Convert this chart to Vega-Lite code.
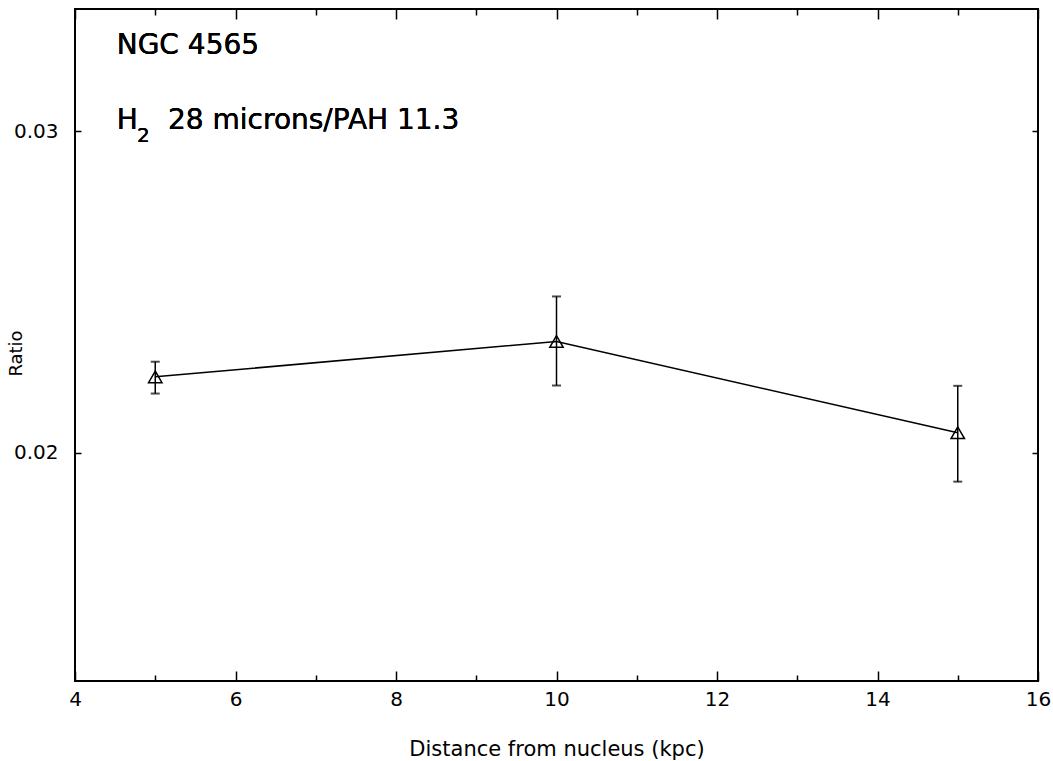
{
  "$schema": "https://vega.github.io/schema/vega-lite/v6.json",
  "width": 963,
  "height": 672,
  "autosize": {"type": "none"},
  "padding": {"left": 75, "top": 9, "right": 15, "bottom": 80},
  "background": "white",
  "config": {
    "view": {"stroke": "black", "strokeWidth": 2},
    "axis": {
      "domain": false,
      "grid": false,
      "labelFont": "DejaVu Sans",
      "titleFont": "DejaVu Sans",
      "labelColor": "black",
      "titleColor": "black",
      "tickColor": "black",
      "tickWidth": 1.5,
      "titleFontWeight": "normal"
    },
    "text": {"font": "DejaVu Sans", "color": "black"}
  },
  "resolve": {"axis": {"x": "independent", "y": "independent"}},
  "data": {
    "values": [
      {"distance": 5, "ratio": 0.02236, "low": 0.02184, "high": 0.02283},
      {"distance": 10, "ratio": 0.02346, "low": 0.02209, "high": 0.02486},
      {"distance": 15, "ratio": 0.02062, "low": 0.0191, "high": 0.02208}
    ]
  },
  "layer": [
    {
      "mark": {"type": "line", "color": "black", "strokeWidth": 1.5},
      "encoding": {
        "x": {
          "field": "distance", "type": "quantitative",
          "scale": {"domain": [4, 16], "nice": false, "zero": false},
          "axis": {
            "orient": "bottom",
            "values": [4, 5, 6, 7, 8, 9, 10, 11, 12, 13, 14, 15, 16],
            "tickSize": {"condition": {"test": "datum.value % 2 === 0", "value": -10}, "value": -6},
            "labelExpr": "datum.value % 2 === 0 ? datum.label : ''",
            "labelFontSize": 20,
            "labelPadding": 18,
            "labelFlush": false,
            "title": "Distance from nucleus (kpc)",
            "titleFontSize": 21,
            "titlePadding": 29
          }
        },
        "y": {
          "field": "ratio", "type": "quantitative",
          "scale": {"domain": [0.0129, 0.0338], "nice": false, "zero": false},
          "axis": {
            "orient": "left",
            "values": [0.02, 0.03],
            "tickSize": -6,
            "format": ".2f",
            "labelFontSize": 20,
            "labelPadding": 23,
            "labelFlush": false,
            "title": "Ratio",
            "titleFontSize": 18,
            "titleAngle": 270,
            "titleAlign": "center",
            "titleBaseline": "middle",
            "titleX": -59,
            "titleY": 344
          }
        }
      }
    },
    {
      "mark": {"type": "rule", "color": "black", "strokeWidth": 1.5},
      "encoding": {
        "x": {
          "field": "distance", "type": "quantitative",
          "axis": {
            "orient": "top",
            "values": [4, 5, 6, 7, 8, 9, 10, 11, 12, 13, 14, 15, 16],
            "tickSize": {"condition": {"test": "datum.value % 2 === 0", "value": -10}, "value": -6},
            "labels": false,
            "title": null
          }
        },
        "y": {
          "field": "low", "type": "quantitative",
          "axis": {
            "orient": "right",
            "values": [0.02, 0.03],
            "tickSize": -6,
            "labels": false,
            "title": null
          }
        },
        "y2": {"field": "high"}
      }
    },
    {
      "mark": {"type": "tick", "orient": "horizontal", "color": "black", "size": 9, "thickness": 2},
      "encoding": {
        "x": {"field": "distance", "type": "quantitative", "axis": null},
        "y": {"field": "low", "type": "quantitative", "axis": null}
      }
    },
    {
      "mark": {"type": "tick", "orient": "horizontal", "color": "black", "size": 9, "thickness": 2},
      "encoding": {
        "x": {"field": "distance", "type": "quantitative", "axis": null},
        "y": {"field": "high", "type": "quantitative", "axis": null}
      }
    },
    {
      "mark": {"type": "point", "shape": "triangle-up", "filled": false, "stroke": "black", "strokeWidth": 1.5, "size": 180, "opacity": 1},
      "encoding": {
        "x": {"field": "distance", "type": "quantitative", "axis": null},
        "y": {"field": "ratio", "type": "quantitative", "axis": null}
      }
    },
    {
      "mark": {"type": "text", "text": "NGC 4565", "fontSize": 28, "align": "left", "baseline": "alphabetic"},
      "encoding": {
        "x": {"datum": 4.52, "type": "quantitative", "axis": null},
        "y": {"datum": 0.03239, "type": "quantitative", "axis": null}
      }
    },
    {
      "mark": {"type": "text", "text": "H", "fontSize": 28, "align": "left", "baseline": "alphabetic"},
      "encoding": {
        "x": {"datum": 4.52, "type": "quantitative", "axis": null},
        "y": {"datum": 0.030053, "type": "quantitative", "axis": null}
      }
    },
    {
      "mark": {"type": "text", "text": "2", "fontSize": 20, "align": "left", "baseline": "alphabetic"},
      "encoding": {
        "x": {"datum": 4.773, "type": "quantitative", "axis": null},
        "y": {"datum": 0.029648, "type": "quantitative", "axis": null}
      }
    },
    {
      "mark": {"type": "text", "text": "28 microns/PAH 11.3", "fontSize": 28, "align": "left", "baseline": "alphabetic"},
      "encoding": {
        "x": {"datum": 5.159, "type": "quantitative", "axis": null},
        "y": {"datum": 0.030053, "type": "quantitative", "axis": null}
      }
    }
  ]
}
